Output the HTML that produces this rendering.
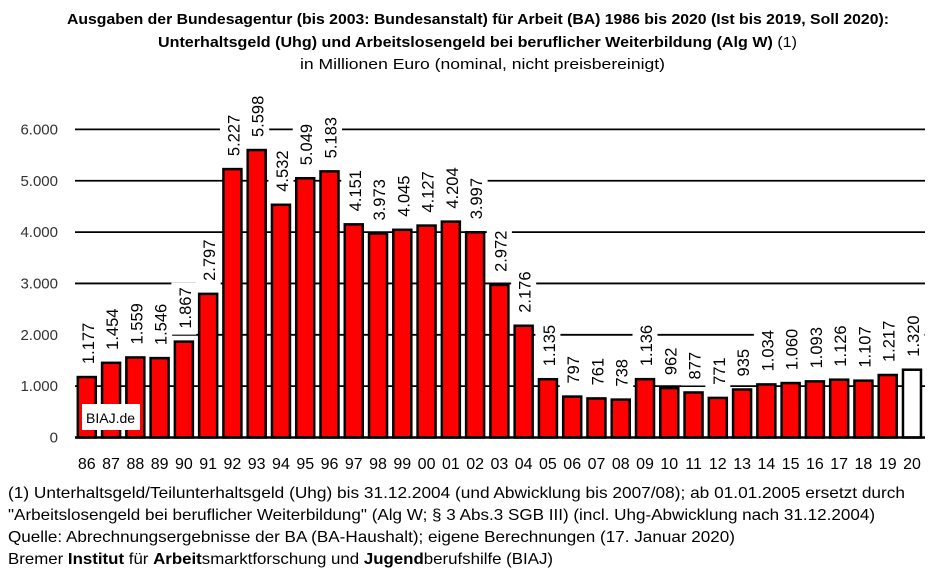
<!DOCTYPE html>
<html><head><meta charset="utf-8"><style>
body{margin:0;background:#fff;}
svg{display:block;font-family:"Liberation Sans",sans-serif;}
</style></head><body>
<svg id="chart" width="952" height="577" viewBox="0 0 952 577">
<g font-size="15">
<text x="67" y="24" font-weight="bold" textLength="822" lengthAdjust="spacingAndGlyphs">Ausgaben der Bundesagentur (bis 2003: Bundesanstalt) für Arbeit (BA) 1986 bis 2020 (Ist bis 2019, Soll 2020):</text>
<text x="158" y="47" textLength="639" lengthAdjust="spacingAndGlyphs"><tspan font-weight="bold">Unterhaltsgeld (Uhg) und Arbeitslosengeld bei beruflicher Weiterbildung (Alg W)</tspan> (1)</text>
<text x="300" y="69" textLength="365" lengthAdjust="spacingAndGlyphs">in Millionen Euro (nominal, nicht preisbereinigt)</text>
</g>
<g id="grid"></g><g id="yt"></g><g id="bars"></g><g id="xl"></g>
<rect x="82" y="404" width="58" height="26" fill="#fff"/>
<text x="86" y="423" font-size="14">BIAJ.de</text>
<g font-size="16">
<text x="8" y="498" textLength="897" lengthAdjust="spacingAndGlyphs">(1) Unterhaltsgeld/Teilunterhaltsgeld  (Uhg) bis 31.12.2004 (und Abwicklung bis 2007/08); ab 01.01.2005 ersetzt durch</text>
<text x="8" y="520" textLength="867" lengthAdjust="spacingAndGlyphs">"Arbeitslosengeld bei beruflicher Weiterbildung" (Alg W; § 3 Abs.3 SGB III) (incl. Uhg-Abwicklung nach 31.12.2004)</text>
<text x="8" y="542" textLength="727" lengthAdjust="spacingAndGlyphs">Quelle: Abrechnungsergebnisse der BA (BA-Haushalt); eigene Berechnungen (17. Januar 2020)</text>
<text x="8" y="564" textLength="545" lengthAdjust="spacingAndGlyphs">Bremer <tspan font-weight="bold">Institut</tspan> für <tspan font-weight="bold">Arbeit</tspan>smarktforschung und <tspan font-weight="bold">Jugend</tspan>berufshilfe (BIAJ)</text>
</g>
</svg>
<script>
const categories=["86","87","88","89","90","91","92","93","94","95","96","97","98","99","00","01","02","03","04","05","06","07","08","09","10","11","12","13","14","15","16","17","18","19","20"];
const values=[1177,1454,1559,1546,1867,2797,5227,5598,4532,5049,5183,4151,3973,4045,4127,4204,3997,2972,2176,1135,797,761,738,1136,962,877,771,935,1034,1060,1093,1126,1107,1217,1320];
const valueLabels=["1.177","1.454","1.559","1.546","1.867","2.797","5.227","5.598","4.532","5.049","5.183","4.151","3.973","4.045","4.127","4.204","3.997","2.972","2.176","1.135","797","761","738","1.136","962","877","771","935","1.034","1.060","1.093","1.126","1.107","1.217","1.320"];
const yTicks=[0,1000,2000,3000,4000,5000,6000];
const yTickLabels=["0","1.000","2.000","3.000","4.000","5.000","6.000"];
const NS="http://www.w3.org/2000/svg";
const y0=437.5,pxPer=51.35/1000;
const y=v=>y0-v*pxPer;
const x=i=>86.8+i*24.27;
function mk(t,a,p){const e=document.createElementNS(NS,t);for(const k in a)e.setAttribute(k,a[k]);p.appendChild(e);return e;}
const grid=document.getElementById('grid'),yt=document.getElementById('yt'),bars=document.getElementById('bars'),xl=document.getElementById('xl');
yTicks.forEach((v,i)=>{
  if(v>0){const l=mk('line',{x1:75,x2:925,y1:y(v),y2:y(v),stroke:'#000','stroke-width':1.8},grid);
  
  }
  const t=mk('text',{x:58,y:y(v)+5,'text-anchor':'end','font-size':15,fill:'#333'},yt);t.textContent=yTickLabels[i];
  
  
});
values.forEach((v,i)=>{
  const cx=x(i),top=y(v);
  const r=mk('rect',{x:cx-9,y:top,width:18,height:y0-top,fill:i===values.length-1?'#fff':'#f00',stroke:'#000','stroke-width':2.5},bars);
  
  
  const ty=top-13,lw=valueLabels[i].length*8.4;
  const bg=mk('rect',{x:cx-12.5,y:ty-lw-4,width:25,height:lw+10,fill:'#fff'},bars);
  
  
  const t=mk('text',{x:cx+7,y:ty,transform:`rotate(-90 ${cx+7} ${ty})`,'font-size':16.5},bars);
  t.textContent=valueLabels[i];
  
  
  const c=mk('text',{x:cx,y:469,'text-anchor':'middle','font-size':16},xl);c.textContent=categories[i];
  
  
});
const b=mk('line',{x1:75,x2:925,y1:y0,y2:y0,stroke:'#000','stroke-width':2.5},bars);


</script>
</body></html>
